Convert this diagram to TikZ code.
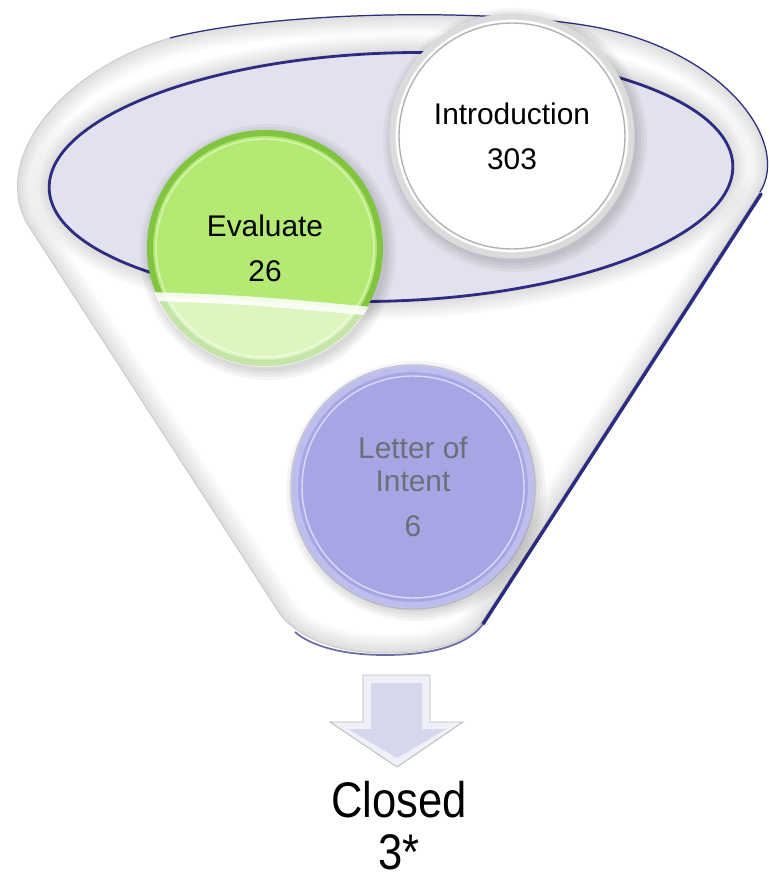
\documentclass[tikz,border=0pt]{standalone}
\usepackage{fontspec}
\setmainfont{Liberation Sans}
\usepackage{tikz}

\definecolor{rimnavy}{RGB}{44,44,130}
\definecolor{bowl}{RGB}{226,226,238}
\definecolor{evalgreen}{RGB}{180,234,115}
\definecolor{evalrim}{RGB}{128,196,64}
\definecolor{loifill}{RGB}{166,166,228}
\definecolor{loirim}{RGB}{190,190,238}
\definecolor{loitext}{RGB}{110,110,122}
\definecolor{arrowface}{RGB}{214,214,236}
\definecolor{arrowedge}{RGB}{240,240,248}

% outline of the funnel, in pixel units
\newcommand{\funneloutline}{(28,225) -- (280,614) .. controls (300,640) and (340,653) .. (385,653) .. controls (440,653) and (470,640) .. (482,622) -- (760,192) .. controls (790,145) and (730,55) .. (600,28) .. controls (500,8) and (280,10) .. (170,38) .. controls (60,70) and (-10,160) .. (28,225) -- cycle}

\begin{document}
\begin{tikzpicture}[x=0.02cm, y=-0.02cm,
		label text/.style={font=\fontsize{17}{18.7}\selectfont, align=center},
		stage/.style={circle, inner sep=0pt, minimum size=4.6cm, line width=3.5pt, label text},
		big text/.style={font=\fontsize{28.5}{30}\selectfont, inner sep=0pt}]
				\useasboundingbox (0,0) rectangle (769,881);
				% Funnel body and rim:
				\fill[white] \funneloutline;
				\begin{scope}
					\clip \funneloutline;
					\foreach \w in {2,4,...,22}
						\draw[black, opacity=0.01, line width=\w pt] \funneloutline;
				\end{scope}
				\draw[gray!40, line width=0.6pt] \funneloutline;
				\draw[rimnavy, line width=0.7pt] (170,38) .. controls (280,10) and (500,8) .. (600,28) .. controls (730,55) and (790,145) .. (760,192);
				\draw[rimnavy, line width=2pt, line cap=round] (761,194) -- (483,624);
				\draw[rimnavy!70, line width=1pt] (483,624) .. controls (470,642) and (440,655) .. (385,655) .. controls (340,655) and (310,645) .. (295,632);
				% Bowl:
				\foreach \w in {3,6,...,21}
					\draw[black, opacity=0.02, line width=\w pt, rotate around={2:(391,177)}] (391,177) ellipse [x radius=342, y radius=124];
				\draw[fill=bowl, draw=rimnavy, line width=1.6pt, rotate around={2:(391,177)}] (391,177) ellipse [x radius=342, y radius=124];
				% Shadows under the stages:
				\foreach \k in {1,...,4} {
					\fill[black, opacity=0.04] (268,252) circle [radius=116+3*\k];
					\fill[black, opacity=0.04] (515,140) circle [radius=120+3*\k];
					\fill[black, opacity=0.04] (416,491) circle [radius=118+3*\k];
				}
				% Stages:
				\node[stage, fill=evalgreen, draw=evalrim] (evaluate) at (265,248) {Evaluate\\[7pt]26};
				\begin{scope}
					\clip (evaluate.center) circle [radius=119];
					\fill[white, opacity=0.55] (140,296) .. controls (250,300) .. (400,314) -- (400,380) -- (140,380) -- cycle;
					\draw[white, opacity=0.85, line width=5pt] (140,296) .. controls (250,300) .. (400,314);
				\end{scope}
				\draw[white, opacity=0.5, line width=0.8pt] (evaluate.center) circle [radius=109];
				\node[stage, minimum size=4.78cm, fill=white, draw=gray!28] (intro) at (512,136) {Introduction\\[7pt]303};
				\draw[gray!60, line width=0.8pt] (intro.center) circle [radius=113];
				\node[stage, minimum size=4.72cm, fill=loifill, draw=loirim, text=loitext] (loi) at (413,487) {Letter of\\Intent\\[7pt]6};
				\draw[white, opacity=0.6, line width=0.8pt] (loi.center) circle [radius=111];
				\draw[loifill!80!black, opacity=0.4, line width=0.8pt] (loi.center) circle [radius=122];
				% Arrow down to the closed count:
				\coordinate (tip) at (397,767);
				\filldraw[fill=arrowedge, draw=gray!55, line width=0.5pt] (363,675) -- (430,675) -- (430,722) -- (463,722) -- (tip) -- (330,722) -- (363,722) -- cycle;
				\fill[arrowface] (371,683) -- (422,683) -- (422,729) -- (446,729) -- (397,758) -- (348,729) -- (371,729) -- cycle;
				\node[big text] (closed) at (399,800) {\scalebox{0.87}[1]{Closed}};
				\node[big text] (count) at (399,852) {\scalebox{0.87}[1]{3*}};
			\end{tikzpicture}
\end{document}
